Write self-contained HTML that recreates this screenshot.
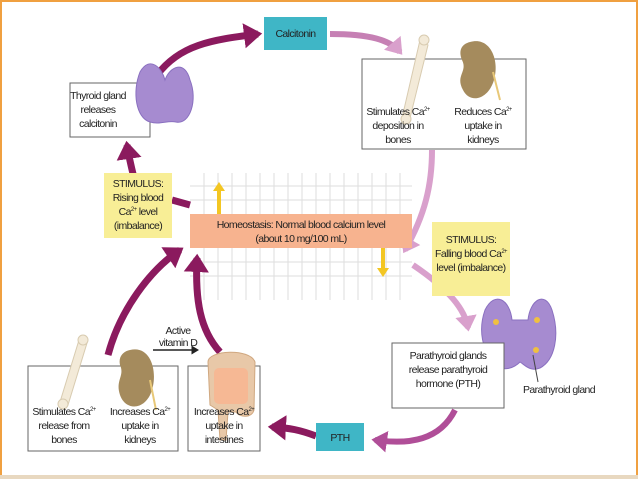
<!DOCTYPE html>
<html><head><meta charset="utf-8"><style>
html,body{margin:0;padding:0;background:#fff}
svg{display:block}
text{font-family:"Liberation Sans",sans-serif;font-size:10.5px;fill:#222;letter-spacing:-0.6px}
</style></head><body>
<svg width="638" height="479" viewBox="0 0 638 479" xmlns="http://www.w3.org/2000/svg">
<defs>
<marker id="am" markerWidth="4" markerHeight="4" refX="2" refY="2" orient="auto" markerUnits="strokeWidth"><path d="M0,0.2 L2.6,2 L0,3.8 Z" fill="#8b1a5e"/></marker>
<marker id="ap" markerWidth="4" markerHeight="4" refX="2" refY="2" orient="auto" markerUnits="strokeWidth"><path d="M0,0.2 L2.6,2 L0,3.8 Z" fill="#d9a0cc"/></marker>
<marker id="apm" markerWidth="4" markerHeight="4" refX="2" refY="2" orient="auto" markerUnits="strokeWidth"><path d="M0,0.2 L2.6,2 L0,3.8 Z" fill="#b04e98"/></marker>
<marker id="ab" markerWidth="6" markerHeight="6" refX="3" refY="3" orient="auto" markerUnits="strokeWidth"><path d="M0,0 L5,3 L0,6 Z" fill="#222"/></marker>
</defs>
<rect x="0" y="0" width="638" height="479" fill="#fff"/>
<rect x="1" y="1" width="636" height="475" fill="none" stroke="#f0a040" stroke-width="2"/>
<rect x="0" y="475" width="638" height="4" fill="#e8d8c0"/>

<g stroke="#ddd" stroke-width="1">
<line x1="190" y1="186" x2="412" y2="186"/><line x1="190" y1="200" x2="412" y2="200"/>
<line x1="190" y1="262" x2="412" y2="262"/><line x1="190" y1="276" x2="412" y2="276"/>
<line x1="204" y1="173" x2="204" y2="300"/><line x1="218" y1="173" x2="218" y2="300"/><line x1="232" y1="173" x2="232" y2="300"/><line x1="246" y1="173" x2="246" y2="300"/><line x1="260" y1="173" x2="260" y2="300"/><line x1="274" y1="173" x2="274" y2="300"/><line x1="288" y1="173" x2="288" y2="300"/><line x1="302" y1="173" x2="302" y2="300"/><line x1="316" y1="173" x2="316" y2="300"/><line x1="330" y1="173" x2="330" y2="300"/><line x1="344" y1="173" x2="344" y2="300"/><line x1="358" y1="173" x2="358" y2="300"/><line x1="372" y1="173" x2="372" y2="300"/><line x1="386" y1="173" x2="386" y2="300"/><line x1="400" y1="173" x2="400" y2="300"/>
</g>
<path d="M219,214 L219,190" stroke="#f3c623" stroke-width="4"/>
<path d="M219,182 l-6,9 h12z" fill="#f3c623"/>
<path d="M383,248 L383,268" stroke="#f3c623" stroke-width="4"/>
<path d="M383,277 l-6,-9 h12z" fill="#f3c623"/>

<path d="M157,75 C180,45 210,40 258,34" stroke="#8b1a5e" stroke-width="7" fill="none" marker-end="url(#am)"/>
<path d="M330,34 C370,34 390,40 400,52" stroke="#c680b4" stroke-width="6" fill="none" marker-end="url(#ap)"/>
<path d="M432,150 C432,185 425,215 405,250" stroke="#d9a0cc" stroke-width="6" fill="none" marker-end="url(#ap)"/>
<path d="M144,217 C137,190 130,165 127,145" stroke="#8b1a5e" stroke-width="7" fill="none" marker-end="url(#am)"/>
<path d="M172,200 L190,205" stroke="#8b1a5e" stroke-width="7"/>
<path d="M413,265 C450,290 465,310 468,328" stroke="#d9a0cc" stroke-width="6" fill="none" marker-end="url(#ap)"/>
<path d="M455,410 C440,440 410,445 375,440" stroke="#b04e98" stroke-width="6" fill="none" marker-end="url(#apm)"/>
<path d="M316,436 C300,430 290,428 272,427" stroke="#8b1a5e" stroke-width="7" fill="none" marker-end="url(#am)"/>
<path d="M108,355 C120,310 150,270 180,250" stroke="#8b1a5e" stroke-width="7" fill="none" marker-end="url(#am)"/>
<path d="M220,352 C200,330 195,300 197,258" stroke="#8b1a5e" stroke-width="7" fill="none" marker-end="url(#am)"/>
<line x1="153" y1="350" x2="196" y2="350" stroke="#222" stroke-width="1.5" marker-end="url(#ab)"/>
<text x="178" y="334" text-anchor="middle">Active</text>
<text x="178" y="346" text-anchor="middle">vitamin D</text>

<rect x="264" y="17" width="63" height="33" fill="#3fb6c6"/>
<text x="295.5" y="37" text-anchor="middle">Calcitonin</text>

<rect x="70" y="83" width="80" height="54" fill="#fff" stroke="#666"/>
<text x="98" y="99" text-anchor="middle">Thyroid gland</text>
<text x="98" y="113" text-anchor="middle">releases</text>
<text x="98" y="127" text-anchor="middle">calcitonin</text>
<path d="M140,72 C150,55 162,68 165,80 C170,66 185,60 190,80 C198,100 190,125 176,122 C168,120 160,125 150,122 C136,118 132,92 140,72Z" fill="#a68bd0" stroke="#8a70c0"/>

<rect x="362" y="59" width="164" height="90" fill="#fff" stroke="#666"/>
<path d="M420,40 L428,45 L410,118 L402,118Z" fill="#f3ead8" stroke="#d8cbb0"/>
<circle cx="424" cy="40" r="5" fill="#f3ead8" stroke="#d8cbb0"/>
<circle cx="406" cy="119" r="5" fill="#f3ead8" stroke="#d8cbb0"/>
<path d="M470,42 C490,36 500,60 494,80 C488,100 470,104 463,90 C455,75 468,72 462,60 C458,50 462,44 470,42Z" fill="#a58b5d"/>
<path d="M493,72 L500,100" stroke="#e8c878" stroke-width="2"/>
<text x="398" y="115" text-anchor="middle">Stimulates Ca<tspan font-size="6" dy="-4">2+</tspan></text>
<text x="398" y="129" text-anchor="middle">deposition in</text>
<text x="398" y="143" text-anchor="middle">bones</text>
<text x="483" y="115" text-anchor="middle">Reduces Ca<tspan font-size="6" dy="-4">2+</tspan></text>
<text x="483" y="129" text-anchor="middle">uptake in</text>
<text x="483" y="143" text-anchor="middle">kidneys</text>

<rect x="104" y="173" width="68" height="65" fill="#f8ee96"/>
<text x="138" y="187" text-anchor="middle">STIMULUS:</text>
<text x="138" y="201" text-anchor="middle">Rising blood</text>
<text x="138" y="215" text-anchor="middle">Ca<tspan font-size="6" dy="-4">2+</tspan><tspan dy="4"> level</tspan></text>
<text x="138" y="229" text-anchor="middle">(imbalance)</text>

<rect x="190" y="214" width="222" height="34" fill="#f7b38f"/>
<text x="301" y="228" text-anchor="middle">Homeostasis: Normal blood calcium level</text>
<text x="301" y="242" text-anchor="middle">(about 10 mg/100 mL)</text>

<rect x="432" y="222" width="78" height="74" fill="#f8ee96"/>
<text x="471" y="243" text-anchor="middle">STIMULUS:</text>
<text x="471" y="257" text-anchor="middle">Falling blood Ca<tspan font-size="6" dy="-4">2+</tspan></text>
<text x="471" y="271" text-anchor="middle">level (imbalance)</text>

<path d="M485,310 C495,290 510,300 512,320 L528,320 C530,300 545,290 552,310 C560,335 555,360 540,368 C530,372 525,365 520,362 C514,368 504,372 495,365 C482,350 478,330 485,310Z" fill="#a68bd0" stroke="#8a70c0"/>
<circle cx="496" cy="322" r="3" fill="#f0c040"/><circle cx="497" cy="352" r="3" fill="#f0c040"/>
<circle cx="537" cy="320" r="3" fill="#f0c040"/><circle cx="536" cy="350" r="3" fill="#f0c040"/>
<line x1="533" y1="355" x2="538" y2="382" stroke="#444"/>
<text x="559" y="393" text-anchor="middle">Parathyroid gland</text>

<rect x="392" y="343" width="112" height="65" fill="#fff" stroke="#666"/>
<text x="448" y="359" text-anchor="middle">Parathyroid glands</text>
<text x="448" y="373" text-anchor="middle">release parathyroid</text>
<text x="448" y="387" text-anchor="middle">hormone (PTH)</text>

<rect x="316" y="423" width="48" height="28" fill="#3fb6c6"/>
<text x="340" y="441" text-anchor="middle">PTH</text>

<rect x="28" y="366" width="150" height="85" fill="#fff" stroke="#666"/>
<rect x="188" y="366" width="72" height="85" fill="#fff" stroke="#666"/>
<path d="M79,340 L87,343 L68,405 L60,402Z" fill="#f3ead8" stroke="#d8cbb0"/>
<circle cx="83" cy="340" r="5" fill="#f3ead8" stroke="#d8cbb0"/>
<circle cx="63" cy="404" r="5" fill="#f3ead8" stroke="#d8cbb0"/>
<path d="M130,350 C150,345 158,370 152,390 C146,410 126,412 120,395 C115,380 125,376 120,365 C118,356 124,351 130,350Z" fill="#a58b5d"/>
<path d="M150,380 L156,410" stroke="#e8c878" stroke-width="2"/>
<path d="M208,362 C208,350 250,348 255,362 L254,410 C252,418 240,418 236,412 L228,412 L226,440 L220,440 L218,410 L210,405Z" fill="#e8c8a8" stroke="#d0a880"/>
<rect x="214" y="368" width="34" height="36" rx="5" fill="#f6b894"/>
<text x="64" y="415" text-anchor="middle">Stimulates Ca<tspan font-size="6" dy="-4">2+</tspan></text>
<text x="64" y="429" text-anchor="middle">release from</text>
<text x="64" y="443" text-anchor="middle">bones</text>
<text x="140" y="415" text-anchor="middle">Increases Ca<tspan font-size="6" dy="-4">2+</tspan></text>
<text x="140" y="429" text-anchor="middle">uptake in</text>
<text x="140" y="443" text-anchor="middle">kidneys</text>
<text x="224" y="415" text-anchor="middle">Increases Ca<tspan font-size="6" dy="-4">2+</tspan></text>
<text x="224" y="429" text-anchor="middle">uptake in</text>
<text x="224" y="443" text-anchor="middle">intestines</text>
</svg>
</body></html>
